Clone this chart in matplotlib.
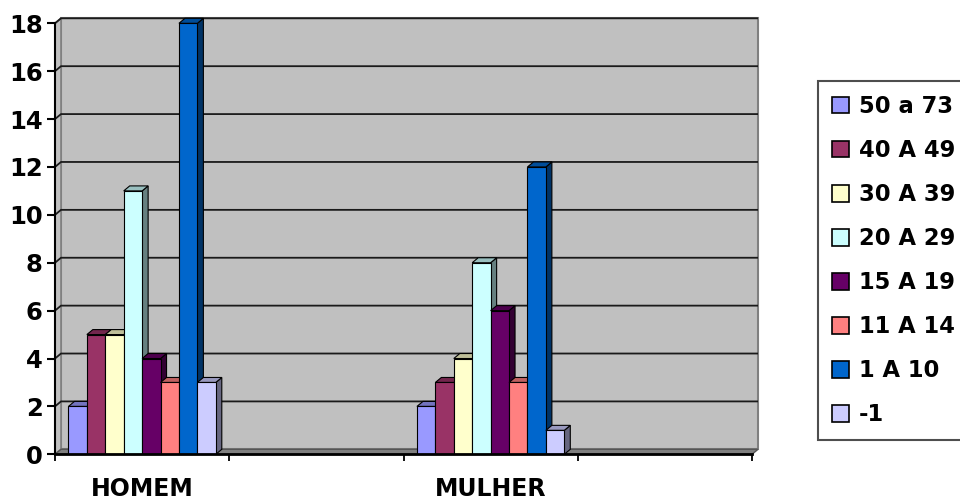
import matplotlib
matplotlib.use("Agg")
import matplotlib.pyplot as plt
from matplotlib.patches import Polygon, Patch
from matplotlib.colors import to_rgb

plt.rcParams["font.family"] = "DejaVu Sans"
plt.rcParams["font.weight"] = "bold"

# ---- data ----
categories = ["HOMEM", "", "MULHER", ""]
series_labels = ["50 a 73", "40 A 49", "30 A 39", "20 A 29",
                 "15 A 19", "11 A 14", "1 A 10", "-1"]
series_colors = ["#9999FF", "#993366", "#FFFFCC", "#CCFFFF",
                 "#660066", "#FF8080", "#0066CC", "#CCCCFF"]
homem = [2, 5, 5, 11, 4, 3, 18, 3]
mulher = [2, 3, 4, 8, 6, 3, 12, 1]
values_by_cat = {"HOMEM": homem, "MULHER": mulher}

yticks = list(range(0, 19, 2))
ymax = 18

# ---- figure / axes ----
fig = plt.figure(figsize=(9.6, 4.99), dpi=100)
ax = fig.add_axes([55 / 960, 44.7 / 499, 697 / 960, 431 / 499])
ax.set_xlim(0, len(categories))
ax.set_ylim(0, ymax)
ax.patch.set_visible(False)

# depth of the fake 3d box, in data units (~6px right, ~5px up)
DX = 6 * len(categories) / 697
DY = 5 * ymax / 431
ncat = len(categories)

wall_col = "#C0C0C0"
# back wall, side wall, floor
ax.add_patch(Polygon([(DX, DY), (ncat + DX, DY), (ncat + DX, ymax + DY), (DX, ymax + DY)],
                     closed=True, facecolor=wall_col, edgecolor="#808080", lw=1.5,
                     zorder=0, clip_on=False))
ax.add_patch(Polygon([(0, 0), (DX, DY), (DX, ymax + DY), (0, ymax)],
                     closed=True, facecolor=wall_col, edgecolor="#808080", lw=1.2,
                     zorder=0, clip_on=False))
ax.add_patch(Polygon([(0, 0), (ncat, 0), (ncat + DX, DY), (DX, DY)],
                     closed=True, facecolor="#808080", edgecolor="#555555", lw=1,
                     zorder=0.5, clip_on=False))

# gridlines on the walls
for v in yticks[1:]:
    ax.plot([0, DX, ncat + DX], [v, v + DY, v + DY], color="#1a1a1a", lw=1.3,
            zorder=1, clip_on=False, solid_capstyle="butt")


def shade(c, f):
    r, g, b = to_rgb(c)
    return (r * f, g * f, b * f)


# ---- bars ----
w = 0.1057
nser = len(series_labels)
z = 2
for i, cat in enumerate(categories):
    vals = values_by_cat.get(cat)
    if vals is None:
        continue
    for j, (v, col) in enumerate(zip(vals, series_colors)):
        x0 = i + 0.5 + (j - nser / 2) * w
        x1 = x0 + w
        # right side face
        ax.add_patch(Polygon([(x1, 0), (x1 + DX, DY), (x1 + DX, v + DY), (x1, v)],
                             closed=True, facecolor=shade(col, 0.5), edgecolor="black",
                             lw=0.8, zorder=z, clip_on=False))
        # top face
        ax.add_patch(Polygon([(x0, v), (x1, v), (x1 + DX, v + DY), (x0 + DX, v + DY)],
                             closed=True, facecolor=shade(col, 0.75), edgecolor="black",
                             lw=0.8, zorder=z + 0.1, clip_on=False))
        # front face
        ax.bar(x0, v, width=w, align="edge", color=col, edgecolor="black",
               linewidth=0.8, zorder=z + 0.2)
        z += 1

# ---- axes styling ----
for s in ("top", "right"):
    ax.spines[s].set_visible(False)
ax.spines["left"].set_linewidth(1.5)
ax.spines["bottom"].set_linewidth(2)
ax.spines["left"].set_zorder(100)
ax.spines["bottom"].set_zorder(100)

ax.set_yticks(yticks)
ax.tick_params(axis="y", direction="out", length=6, width=1.5, pad=3, labelsize=17.5)

ax.set_xticks(range(ncat + 1))
ax.set_xticklabels([])
ax.tick_params(axis="x", which="major", direction="out", length=5, width=1.3)
ax.set_xticks([i + 0.5 for i in range(ncat)], minor=True)
ax.set_xticklabels(categories, minor=True)
ax.tick_params(axis="x", which="minor", length=0, pad=16, labelsize=17)

# ---- legend ----
handles = [Patch(facecolor=c, edgecolor="black", lw=1.2) for c in series_colors]
leg = fig.legend(handles, series_labels, loc="upper left",
                 bbox_to_anchor=(818 / 960, 1 - 81 / 499), bbox_transform=fig.transFigure,
                 frameon=True, fancybox=False, edgecolor="#222222", fontsize=16.3,
                 handlelength=0.75, handleheight=0.75, handletextpad=0.45,
                 labelspacing=0.93, borderpad=0.62, borderaxespad=0)
leg.get_frame().set_linewidth(1.5)

fig.savefig("out.png", dpi=100)
